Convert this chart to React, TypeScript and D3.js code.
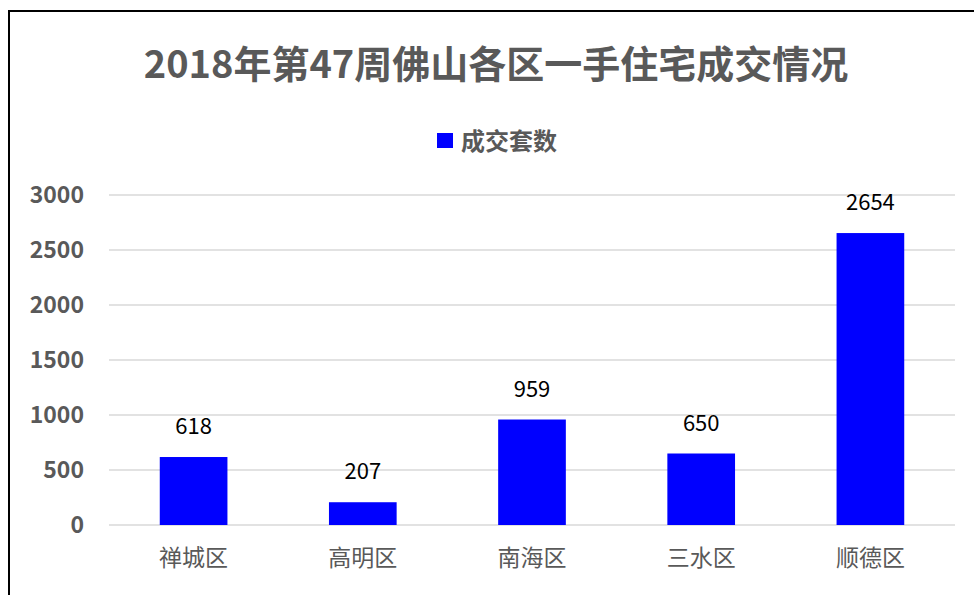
import React from 'react';
import * as d3 from 'd3';

const districts = ['禅城区', '高明区', '南海区', '三水区', '顺德区'];
const deals = [618, 207, 959, 650, 2654];
const yTicks = [0, 500, 1000, 1500, 2000, 2500, 3000];
const title = '2018年第47周佛山各区一手住宅成交情况';
const seriesName = '成交套数';

const W = 974;
const H = 595;
const FONT = '"Noto Sans CJK SC", "Microsoft YaHei", sans-serif';
const GRAY = '#595959';
const BLUE = '#0000FF';

const plot = { left: 109, right: 955, top: 195, bottom: 525 };

const App: React.FC = () => {
  const x = d3.scaleBand<string>()
    .domain(districts)
    .range([plot.left, plot.right])
    .paddingInner(0.6)
    .paddingOuter(0.3);

  const y = d3.scaleLinear()
    .domain([0, 3000])
    .range([plot.bottom, plot.top]);

  return (
    <div style={{ position: 'absolute', left: 0, top: 0 }}>
      <svg width={W} height={H} style={{ display: 'block', fontFamily: FONT }}>
        <rect x={0} y={0} width={W} height={H} fill="#fff" />
        <rect x={9} y={11} width={990} height={620} fill="none" stroke="#000" strokeWidth={2} />

        <text x={496} y={78} textAnchor="middle" fontSize={38} fontWeight="bold" fill={GRAY}>
          {title}
        </text>

        <rect x={437} y={133} width={16} height={15} fill={BLUE} />
        <text x={461} y={150} fontSize={24} fontWeight="bold" fill={GRAY}>
          {seriesName}
        </text>

        {yTicks.map(t => (
          <g key={t}>
            <line x1={plot.left} x2={plot.right} y1={y(t)} y2={y(t)} stroke="#d9d9d9" strokeWidth={1.5} />
            <text x={84} y={y(t)} dy="0.36em" textAnchor="end" fontSize={23} fontWeight="bold" fill={GRAY}>
              {t}
            </text>
          </g>
        ))}

        {districts.map((d, i) => {
          const bx = x(d) || 0;
          const cx = bx + x.bandwidth() / 2;
          return (
            <g key={d}>
              <rect x={bx} y={y(deals[i])} width={x.bandwidth()} height={y(0) - y(deals[i])} fill={BLUE} />
              <text x={cx} y={y(deals[i]) - 23} textAnchor="middle" fontSize={22} fill="#000">
                {deals[i]}
              </text>
              <text x={cx} y={566} textAnchor="middle" fontSize={23} fill={GRAY}>
                {d}
              </text>
            </g>
          );
        })}
      </svg>
    </div>
  );
};

export default App;
